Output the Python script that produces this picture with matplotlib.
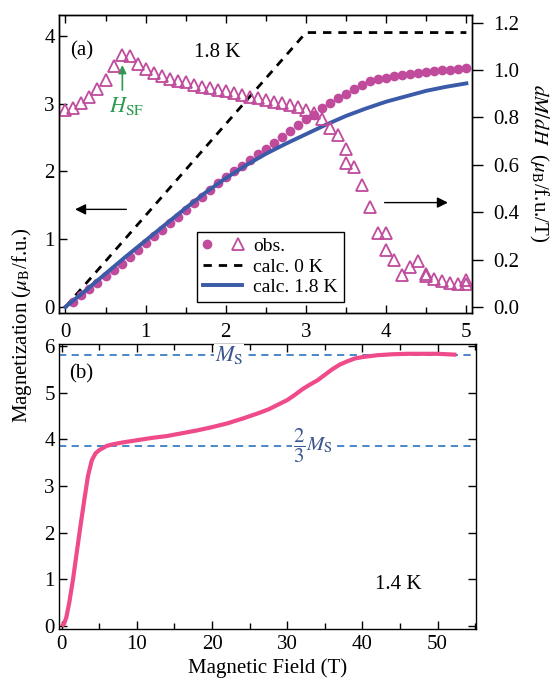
import matplotlib
matplotlib.use("Agg")
import matplotlib.pyplot as plt
from matplotlib.lines import Line2D
from matplotlib.legend_handler import HandlerTuple
from matplotlib.ticker import MultipleLocator

plt.rcParams["font.family"] = ["Liberation Serif", "DejaVu Serif"]
plt.rcParams["mathtext.fontset"] = "stix"

# (a) low-field magnetization at 1.8 K, observed
obs_field = [0.1, 0.2, 0.3, 0.4, 0.5, 0.6, 0.7, 0.8, 0.9, 1.0,
             1.1, 1.2, 1.3, 1.4, 1.5, 1.6, 1.7, 1.8, 1.9, 2.0,
             2.1, 2.2, 2.3, 2.4, 2.5, 2.6, 2.7, 2.8, 2.9, 3.0,
             3.1, 3.2, 3.3, 3.4, 3.5, 3.6, 3.7, 3.8, 3.9, 4.0,
             4.1, 4.2, 4.3, 4.4, 4.5, 4.6, 4.7, 4.8, 4.9, 5.0]
obs_mag = [0.08, 0.17, 0.26, 0.36, 0.45, 0.55, 0.64, 0.74, 0.84, 0.94,
           1.04, 1.14, 1.24, 1.33, 1.43, 1.53, 1.62, 1.73, 1.83, 1.92,
           2.00, 2.08, 2.17, 2.25, 2.33, 2.42, 2.51, 2.60, 2.69, 2.77,
           2.84, 2.93, 3.01, 3.08, 3.15, 3.22, 3.28, 3.33, 3.36, 3.38,
           3.41, 3.42, 3.44, 3.46, 3.47, 3.48, 3.49, 3.50, 3.51, 3.52]

# dM/dH, observed (right axis)
dmdh_field = [0.0, 0.1, 0.2, 0.3, 0.4, 0.5, 0.6, 0.7, 0.8, 0.9,
              1.0, 1.1, 1.2, 1.3, 1.4, 1.5, 1.6, 1.7, 1.8, 1.9,
              2.0, 2.1, 2.2, 2.3, 2.4, 2.5, 2.6, 2.7, 2.8, 2.9,
              3.0, 3.1, 3.2, 3.3, 3.4, 3.5, 3.5, 3.6, 3.7, 3.8,
              3.9, 4.0, 4.0, 4.1, 4.2, 4.3, 4.4, 4.5, 4.5, 4.6,
              4.7, 4.8, 4.9, 5.0, 5.0]
dmdh = [0.833, 0.841, 0.862, 0.886, 0.920, 0.959, 1.017, 1.062, 1.058, 1.027,
        1.006, 0.987, 0.976, 0.963, 0.954, 0.949, 0.937, 0.930, 0.923, 0.917,
        0.910, 0.903, 0.895, 0.887, 0.880, 0.874, 0.866, 0.859, 0.852, 0.845,
        0.831, 0.818, 0.795, 0.757, 0.724, 0.668, 0.606, 0.592, 0.515, 0.422,
        0.314, 0.314, 0.242, 0.197, 0.136, 0.169, 0.193, 0.141, 0.133, 0.120,
        0.108, 0.101, 0.098, 0.115, 0.096]

# calculated curves
calc0_field = [0.0, 3.0, 5.0]
calc0_mag = [0.0, 4.05, 4.05]
calc18_field = [0.0, 0.25, 0.5, 0.75, 1.0, 1.25, 1.5, 1.75, 2.0, 2.25, 2.5,
                2.75, 3.0, 3.25, 3.5, 3.75, 4.0, 4.25, 4.5, 4.75, 5.0]
calc18_mag = [0.0, 0.24, 0.49, 0.74, 0.98, 1.22, 1.46, 1.69, 1.90, 2.09, 2.26,
              2.41, 2.55, 2.69, 2.82, 2.93, 3.03, 3.11, 3.19, 3.25, 3.30]

# (b) pulsed-field magnetization at 1.4 K
hf_field = [0.0, 0.3, 0.6, 1.0, 1.5, 2.0, 2.5, 3.0, 3.5, 4.0, 4.5, 5.0,
            6.0, 7.0, 8.0, 10.0, 12.0, 14.0, 16.0, 18.0, 20.0, 22.0, 24.0,
            26.0, 27.5, 29.0, 30.0, 31.0, 32.0, 33.0, 34.0, 35.0, 36.0,
            37.0, 38.0, 39.0, 40.0, 42.0, 44.0, 46.0, 48.0, 50.0, 52.5]
hf_mag = [0.0, 0.05, 0.18, 0.50, 1.00, 1.58, 2.15, 2.70, 3.22, 3.55, 3.70, 3.77,
          3.86, 3.90, 3.93, 3.98, 4.03, 4.07, 4.13, 4.19, 4.26, 4.34, 4.44,
          4.55, 4.64, 4.76, 4.84, 4.95, 5.07, 5.17, 5.26, 5.38, 5.50,
          5.60, 5.67, 5.73, 5.76, 5.80, 5.82, 5.83, 5.83, 5.83, 5.81]
m_sat = 5.8

MAGENTA = "#c04a9c"
BLUE = "#3b5ba9"
PINK = "#ef4a8a"
DASH_BLUE = "#3c7dc4"
LABEL_BLUE = "#3a5590"
GREEN = "#2e9a50"

fig = plt.figure(figsize=(5.53, 6.79), dpi=100)
ax_a = fig.add_axes([0.1067, 0.539, 0.7468, 0.439])
ax_r = ax_a.twinx()
ax_b = fig.add_axes([0.1067, 0.0736, 0.754, 0.4198])

# ---- panel (a)
ax_a.plot(calc0_field, calc0_mag, color="black", lw=2, ls=(0, (3, 2.5)))
ax_a.plot(obs_field, obs_mag, "o", color=MAGENTA, ms=7, mec="none")
ax_a.plot(calc18_field, calc18_mag, color=BLUE, lw=2.8)
ax_r.plot(dmdh_field, dmdh, "^", mfc="none", mec=MAGENTA, mew=1.3, ms=8)

ax_a.set_xlim(-0.08, 5.07)
ax_a.set_ylim(-0.09, 4.31)
ax_r.set_ylim(-0.025, 1.232)
ax_a.xaxis.set_major_locator(MultipleLocator(1))
ax_a.xaxis.set_minor_locator(MultipleLocator(0.5))
ax_a.yaxis.set_major_locator(MultipleLocator(1))
ax_r.yaxis.set_major_locator(MultipleLocator(0.2))
ax_r.yaxis.set_major_formatter(lambda v, p: f"{v:.1f}")
ax_a.tick_params(which="both", direction="in", top=True, right=False,
                 labelsize=15, width=1)
ax_a.tick_params(which="major", length=6)
ax_a.tick_params(which="minor", length=4)
ax_a.tick_params(axis="x", pad=7)
ax_a.tick_params(axis="y", pad=3)
ax_r.tick_params(direction="out", length=8, width=1, labelsize=15, pad=7)

ax_a.text(0.027, 0.88, "(a)", transform=ax_a.transAxes, fontsize=15,
          va="center", ha="left")
ax_a.text(1.89, 3.75, "1.8 K", fontsize=15, ha="center", va="center")

ax_a.annotate("", xy=(0.12, 1.44), xytext=(0.76, 1.44),
              arrowprops=dict(arrowstyle="-|>", color="black", lw=1.0,
                              mutation_scale=16, shrinkA=0, shrinkB=0))
ax_a.annotate("", xy=(4.77, 1.54), xytext=(3.98, 1.54),
              arrowprops=dict(arrowstyle="-|>", color="black", lw=1.0,
                              mutation_scale=16, shrinkA=0, shrinkB=0))
ax_a.annotate("", xy=(0.71, 3.57), xytext=(0.71, 3.2),
              arrowprops=dict(arrowstyle="-|>", color=GREEN, lw=1.2,
                              mutation_scale=12, shrinkA=0, shrinkB=0))
ax_a.text(0.76, 2.97, r"$H_{\mathrm{SF}}$", color=GREEN, fontsize=16,
          ha="center", va="center")

h_circle = Line2D([], [], ls="none", marker="o", color=MAGENTA, ms=7, mec="none")
h_tri = Line2D([], [], ls="none", marker="^", mfc="none", mec=MAGENTA, mew=1.3, ms=8)
h_calc0 = Line2D([], [], color="black", lw=2, ls=(0, (3, 2.5)))
h_calc18 = Line2D([], [], color=BLUE, lw=2.8)
leg = ax_r.legend([(h_circle, h_tri), h_calc0, h_calc18],
                  ["obs.", "calc. 0 K", "calc. 1.8 K"],
                  handler_map={tuple: HandlerTuple(ndivide=None, pad=1.2)},
                  loc="lower left", bbox_to_anchor=(0.334, 0.037),
                  fontsize=14, frameon=True, fancybox=False, framealpha=1,
                  edgecolor="black", handlelength=2.0, handletextpad=0.6,
                  borderpad=0.3, labelspacing=0.15, borderaxespad=0)
leg.get_frame().set_linewidth(1.0)

# ---- panel (b)
ax_b.axhline(m_sat, color=DASH_BLUE, lw=1.3, ls=(0, (4, 3)))
ax_b.axhline(m_sat * 2 / 3, color=DASH_BLUE, lw=1.3, ls=(0, (4, 3)))
ax_b.plot(hf_field, hf_mag, color=PINK, lw=3, solid_capstyle="butt")

ax_b.text(22.3, m_sat, r"$M_{\mathrm{S}}$", color=LABEL_BLUE, fontsize=16,
          ha="center", va="center",
          bbox=dict(facecolor="white", edgecolor="none", pad=0.5))
ax_b.text(33.4, m_sat * 2 / 3, r"$\dfrac{2}{3}M_{\mathrm{S}}$", color=LABEL_BLUE,
          fontsize=15, ha="center", va="center",
          bbox=dict(facecolor="white", edgecolor="none", pad=0.5))
ax_b.text(0.025, 0.895, "(b)", transform=ax_b.transAxes, fontsize=15,
          va="center", ha="left")
ax_b.text(44.8, 0.9, "1.4 K", fontsize=15, ha="center", va="center")

ax_b.set_xlim(-0.36, 55.1)
ax_b.set_ylim(-0.06, 6.04)
ax_b.xaxis.set_major_locator(MultipleLocator(10))
ax_b.xaxis.set_minor_locator(MultipleLocator(5))
ax_b.yaxis.set_major_locator(MultipleLocator(1))
ax_b.tick_params(which="both", direction="in", top=True, right=True,
                 labelsize=15, width=1)
ax_b.tick_params(which="major", length=6)
ax_b.tick_params(which="minor", length=4)
ax_b.tick_params(axis="x", pad=4)
ax_b.tick_params(axis="y", pad=3)

for ax in (ax_a, ax_r, ax_b):
    for sp in ax.spines.values():
        sp.set_linewidth(1.0)

fig.text(0.040, 0.521, r"Magnetization ($\mu_{\mathrm{B}}$/f.u.)", rotation=90,
         fontsize=15, ha="center", va="center")
fig.text(0.974, 0.760, r"$dM/dH$  ($\mu_{\mathrm{B}}$/f.u./T)", rotation=270,
         fontsize=15, ha="center", va="center")
fig.text(0.483, 0.0085, "Magnetic Field (T)", fontsize=15, ha="center",
         va="baseline")

fig.savefig("out.png", dpi=100)
